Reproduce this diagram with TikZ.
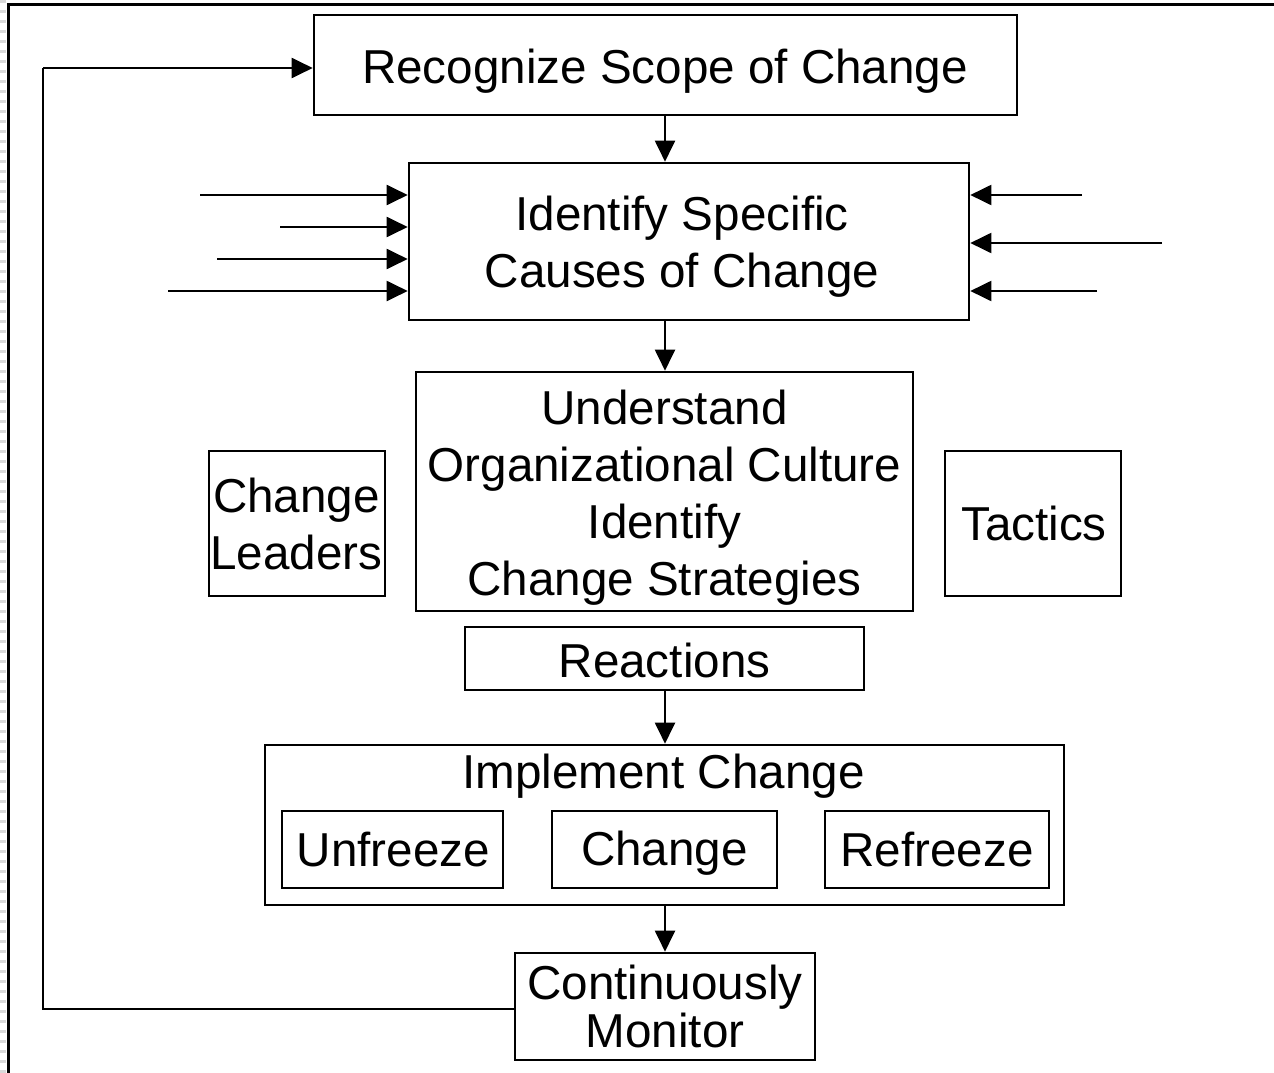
\documentclass[tikz,border=0pt]{standalone}
\usepackage{fontspec}
\setmainfont{Liberation Sans}
\usetikzlibrary{arrows.meta}
\begin{document}
\begin{tikzpicture}[x=1pt,y=-1pt,
  box/.style={draw=black,line width=2.6pt,inner sep=0pt},
  txt/.style={inner sep=0pt,align=center,font=\fontsize{47.6}{57}\selectfont},
  arr/.style={line width=2pt,-{Triangle[length=21pt,width=20pt]}},
  conn/.style={line width=2pt}]
\useasboundingbox (0,0) rectangle (1274,1073);

% page frame with its dotted margin rule
\draw[black!15,line width=6pt,dash pattern=on 3pt off 7pt] (3,0) -- (3,1073);
\draw[line width=3pt] (8,1073) -- (8,5) -- (1274,5);

% process boxes
\node[box,minimum width=703,minimum height=100] (rec) at (665.5,65) {};
\node[box,minimum width=560,minimum height=157] (cause) at (689,241.5) {};
\node[box,minimum width=497,minimum height=239] (cult) at (664.5,491.5) {};
\node[box,minimum width=176,minimum height=145] (lead) at (297,523.5) {};
\node[box,minimum width=176,minimum height=145] (tact) at (1033,523.5) {};
\node[box,minimum width=399,minimum height=63] (react) at (664.5,658.5) {};
\node[box,minimum width=799,minimum height=160] (impl) at (664.5,825) {};
\node[box,minimum width=221,minimum height=77] (unf) at (392.5,849.5) {};
\node[box,minimum width=225,minimum height=77] (chg) at (664.5,849.5) {};
\node[box,minimum width=224,minimum height=77] (ref) at (937,849.5) {};
\node[box,minimum width=300,minimum height=107] (mon) at (665,1006.5) {};

% box texts
\node[txt] (rect) at (665,71) {Recognize Scope of Change};
\node[txt] (causet) at (682,246.5) {Identify Specific\\Causes of Change};
\node[txt] (cultt) at (664.5,497.5) {Understand\\Organizational Culture\\Identify\\Change Strategies};
\node[txt] (leadt) at (296.5,523.5) {Change\\Leaders};
\node[txt] (tactt) at (1034,523.5) {Tactics};
\node[txt] (reactt) at (664.5,660.5) {Reactions};
\node[txt] (implt) at (663.5,776) {Implement Change};
\node[txt] (unft) at (393.5,849.5) {Unfreeze};
\node[txt] (chgt) at (664.5,853.5) {Change};
\node[txt] (reft) at (937,849.5) {Refreeze};
\node[txt,font=\fontsize{47.6}{48}\selectfont] (mont) at (665,1006.5) {Continuously\\Monitor};

% main flow
\draw[arr] (rec.south -| 665,0) -- (cause.north -| 665,0);
\draw[arr] (cause.south -| 665,0) -- (cult.north -| 665,0);
\draw[arr] (react.south -| 665,0) -- (impl.north -| 665,0);
\draw[arr] (impl.south -| 665,0) -- (mon.north -| 665,0);

% external causes entering from both sides
\coordinate (l1) at (200,195);
\coordinate (l2) at (280,227);
\coordinate (l3) at (217,259);
\coordinate (l4) at (168,291);
\coordinate (r1) at (1082,195);
\coordinate (r2) at (1162,243);
\coordinate (r3) at (1097,291);
\foreach \p in {l1,l2,l3,l4}
  \draw[arr] (\p) -- (\p -| cause.west);
\foreach \p in {r1,r2,r3}
  \draw[arr] (\p) -- (\p -| cause.east);

% feedback loop
\coordinate (fb) at (43,0);
\coordinate (monout) at ([yshift=-2.5pt]mon.west);
\coordinate (recin) at ([yshift=-3pt]rec.west);
\draw[conn] (monout) -- (monout -| fb) -- (recin -| fb);
\draw[arr] (recin -| fb) -- (recin);
\end{tikzpicture}
\end{document}
